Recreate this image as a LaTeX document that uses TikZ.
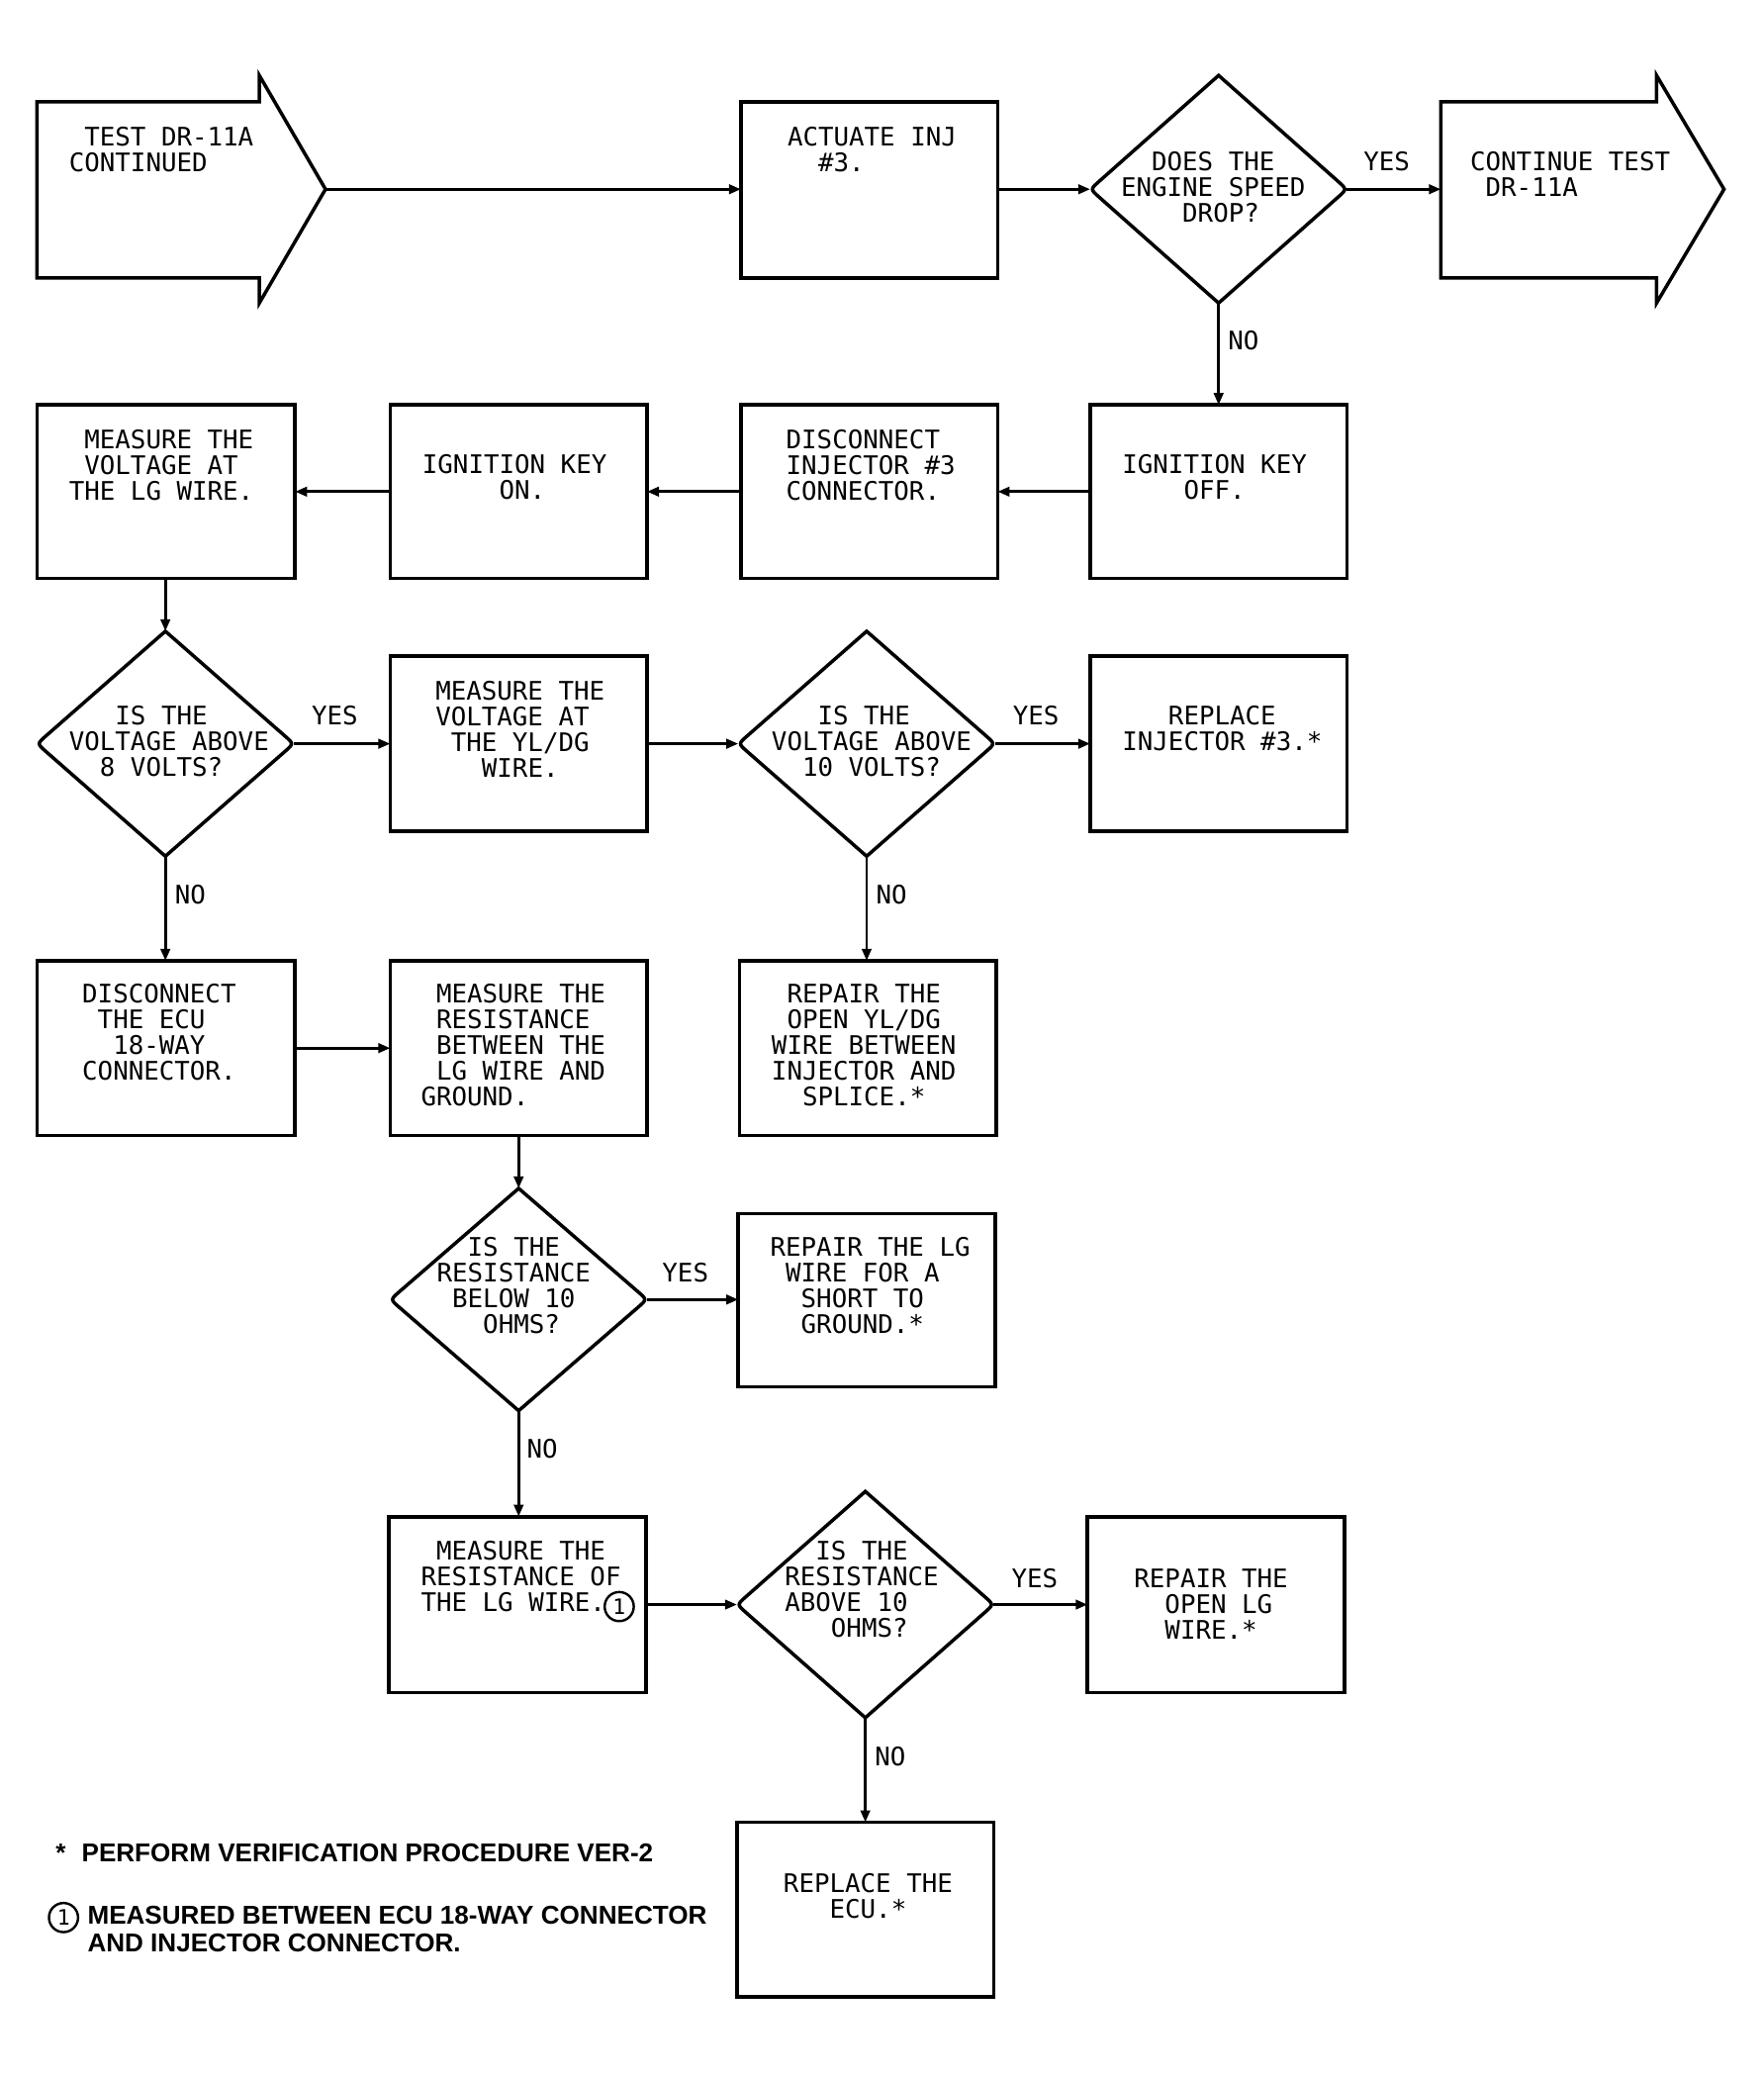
\documentclass[tikz,border=0pt]{standalone}
\usepackage{fontspec}
\usetikzlibrary{arrows.meta,shapes.geometric,calc}
\newfontfamily\plotfont{DejaVu Sans Mono}
\newfontfamily\notefont{Liberation Sans}
\newcommand\ind[1]{\hspace*{#1\fontcharwd\font`M}}
\newcommand\mydiam[1]{\draw[shapeline] (#1.north) -- ($(#1.east)!9pt!(#1.north)$) .. controls (#1.east) .. ($(#1.east)!9pt!(#1.south)$) -- (#1.south) -- ($(#1.west)!9pt!(#1.south)$) .. controls (#1.west) .. ($(#1.west)!9pt!(#1.north)$) -- cycle;}
\tikzset{
  shapeline/.style={line width=2.6pt, line join=miter},
  box/.style={draw, rectangle, line width=2.8pt, minimum width=194pt, minimum height=132pt, inner sep=0pt, outer sep=0pt},
  dia/.style={diamond, draw=none, minimum width=194pt, minimum height=170pt, inner sep=0pt, outer sep=0pt},
  txt/.style={anchor=base west, align=left, inner sep=0pt, font=\plotfont\fontsize{19.3}{19.4}\selectfont},
  lab/.style={anchor=base, inner sep=0pt, font=\plotfont\fontsize{19.3}{19.4}\selectfont},
  nolab/.style={anchor=base west, inner sep=0pt, font=\plotfont\fontsize{19.3}{19.4}\selectfont},
  conn/.style={line width=2.2pt, -{Triangle[length=9pt,width=7pt]}},
  note/.style={anchor=base west, align=left, inner sep=0pt, font=\notefont\bfseries\fontsize{19.5}{21}\selectfont},
  circ/.style={circle, draw, line width=1.8pt, minimum size=22pt, inner sep=0pt, font=\plotfont\fontsize{16}{16}\selectfont}
}
\begin{document}
\begin{tikzpicture}[x=1pt,y=-1pt]
\useasboundingbox (0,0) rectangle (1333,1571);

% big arrows
\draw[shapeline] (28,77) -- (196,77) -- (196,57) -- (246,143) -- (196,229) -- (196,210) -- (28,210) -- cycle;
\coordinate (startTip) at (246,143);
\draw[shapeline] (1089,77) -- (1252,77) -- (1252,57) -- (1303,143) -- (1252,229) -- (1252,210) -- (1089,210) -- cycle;
\coordinate (endL) at (1089,143);
\node[txt] (tstart) at (52,129.4) {\ind{1}TEST DR-11A\\CONTINUED};
\node[txt] (tend) at (1111,148.4) {CONTINUE TEST\\\ind{1}DR-11A};

% boxes
\node[box, minimum height=133pt] (actuate) at (657,143.5) {};
\node[box, minimum height=131pt] (keyoff) at (921,371.5) {};
\node[box, minimum height=131pt] (discinj) at (657,371.5) {};
\node[box, minimum height=131pt] (keyon) at (392,371.5) {};
\node[box, minimum height=131pt, minimum width=195pt] (measlg) at (125.5,371.5) {};
\node[box] (measyl) at (392,562) {};
\node[box] (replinj) at (921,562) {};
\node[box, minimum width=195pt] (discecu) at (125.5,792) {};
\node[box] (measres) at (392,792) {};
\node[box] (repyl) at (656,792) {};
\node[box, minimum height=131pt] (repshort) at (655,982.5) {};
\node[box, minimum height=133pt] (measres2) at (391,1212.5) {};
\node[box, minimum height=133pt] (repopen) at (919,1212.5) {};
\node[box] (replecu) at (654,1443) {};

% diamonds
\node[dia, minimum height=172pt] (dspeed) at (921,143) {};
\node[dia] (dv8) at (125,562) {};
\node[dia] (dv10) at (655,562) {};
\node[dia, minimum height=168pt] (dres10) at (392,982) {};
\node[dia, minimum height=171pt] (dabove) at (654,1212.5) {};
\mydiam{dspeed}
\mydiam{dv8}
\mydiam{dv10}
\mydiam{dres10}
\mydiam{dabove}

% texts
\node[txt] (tactuate) at (595,129.4) {ACTUATE INJ\\\ind{2}\#3.};
\node[txt] (tdspeed) at (847,167.8) {\ind{2}DOES THE\\ENGINE SPEED\\\ind{4}DROP?};
\node[txt] (tkeyoff) at (848,377.4) {IGNITION KEY\\\ind{4}OFF.};
\node[txt] (tdiscinj) at (594,377.8) {DISCONNECT\\INJECTOR \#3\\CONNECTOR.};
\node[txt] (tkeyon) at (319,377.4) {IGNITION KEY\\\ind{5}ON.};
\node[txt] (tmeaslg) at (52,377.8) {\ind{1}MEASURE THE\\\ind{1}VOLTAGE AT\\THE LG WIRE.};
\node[txt] (tdv8) at (52,586.8) {\ind{3}IS THE\\VOLTAGE ABOVE\\\ind{2}8 VOLTS?};
\node[txt] (tmeasyl) at (329,587.2) {MEASURE THE\\VOLTAGE AT\\\ind{1}THE YL/DG\\\ind{3}WIRE.};
\node[txt] (tdv10) at (583,586.8) {\ind{3}IS THE\\VOLTAGE ABOVE\\\ind{2}10 VOLTS?};
\node[txt] (treplinj) at (848,567.4) {\ind{3}REPLACE\\INJECTOR \#3.*};
\node[txt] (tdiscecu) at (62,816.2) {DISCONNECT\\\ind{1}THE ECU\\\ind{2}18-WAY\\CONNECTOR.};
\node[txt] (tmeasres) at (318,835.6) {\ind{1}MEASURE THE\\\ind{1}RESISTANCE\\\ind{1}BETWEEN THE\\\ind{1}LG WIRE AND\\GROUND.};
\node[txt] (trepyl) at (583,835.6) {\ind{1}REPAIR THE\\\ind{1}OPEN YL/DG\\WIRE BETWEEN\\INJECTOR AND\\\ind{2}SPLICE.*};
\node[txt] (tdres10) at (330,1007.2) {\ind{2}IS THE\\RESISTANCE\\\ind{1}BELOW 10\\\ind{3}OHMS?};
\node[txt] (trepshort) at (582,1007.2) {REPAIR THE LG\\\ind{1}WIRE FOR A\\\ind{2}SHORT TO\\\ind{2}GROUND.*};
\node[txt] (tmeasres2) at (318,1217.8) {\ind{1}MEASURE THE\\RESISTANCE OF\\THE LG WIRE.};
\node[circ] (c1box) at (468,1214) {1};
\node[txt] (tdabove) at (593,1237.2) {\ind{2}IS THE\\RESISTANCE\\ABOVE 10\\\ind{3}OHMS?};
\node[txt] (trepopen) at (857,1238.8) {REPAIR THE\\\ind{2}OPEN LG\\\ind{2}WIRE.*};
\node[txt] (treplecu) at (592,1449.4) {REPLACE THE\\\ind{3}ECU.*};

% labels
\node[lab] (y1) at (1048,129) {YES};
\node[lab] (y2) at (253,548) {YES};
\node[lab] (y3) at (783,548) {YES};
\node[lab] (y4) at (518,969) {YES};
\node[lab] (y5) at (782,1200) {YES};
\node[nolab] (n1) at (928,264) {NO};
\node[nolab] (n2) at (132,683) {NO};
\node[nolab] (n3) at (662,683) {NO};
\node[nolab] (n4) at (398,1102) {NO};
\node[nolab] (n5) at (661,1334) {NO};

% connectors
\draw[conn] (startTip) -- (startTip -| actuate.west);
\draw[conn] (actuate.east |- dspeed.west) -- (dspeed.west);
\draw[conn] (dspeed.east) -- (endL);
\draw[conn] (dspeed.south) -- (dspeed.south |- keyoff.north);
\draw[conn] (keyoff.west) -- (discinj.east);
\draw[conn] (discinj.west) -- (keyon.east);
\draw[conn] (keyon.west) -- (measlg.east);
\draw[conn] (dv8.north |- measlg.south) -- (dv8.north);
\draw[conn] (dv8.east) -- (measyl.west);
\draw[conn] (measyl.east) -- (dv10.west);
\draw[conn] (dv10.east) -- (replinj.west);
\draw[conn] (dv8.south) -- (dv8.south |- discecu.north);
\draw[conn] (dv10.south) -- (dv10.south |- repyl.north);
\draw[conn] (discecu.east) -- (measres.west);
\draw[conn] (measres.south) -- (dres10.north);
\draw[conn] (dres10.east) -- (dres10.east -| repshort.west);
\draw[conn] (dres10.south) -- (dres10.south |- measres2.north);
\draw[conn] (measres2.east |- dabove.west) -- (dabove.west);
\draw[conn] (dabove.east) -- (dabove.east -| repopen.west);
\draw[conn] (dabove.south) -- (dabove.south |- replecu.north);

% notes
\node[note] (note1) at (42,1407) {*\hspace{12pt}PERFORM VERIFICATION PROCEDURE VER-2};
\node[circ] (c1note) at (48,1449) {1};
\node[note] (note2) at (66,1475) {MEASURED BETWEEN ECU 18-WAY CONNECTOR\\AND INJECTOR CONNECTOR.};
\end{tikzpicture}
\end{document}
